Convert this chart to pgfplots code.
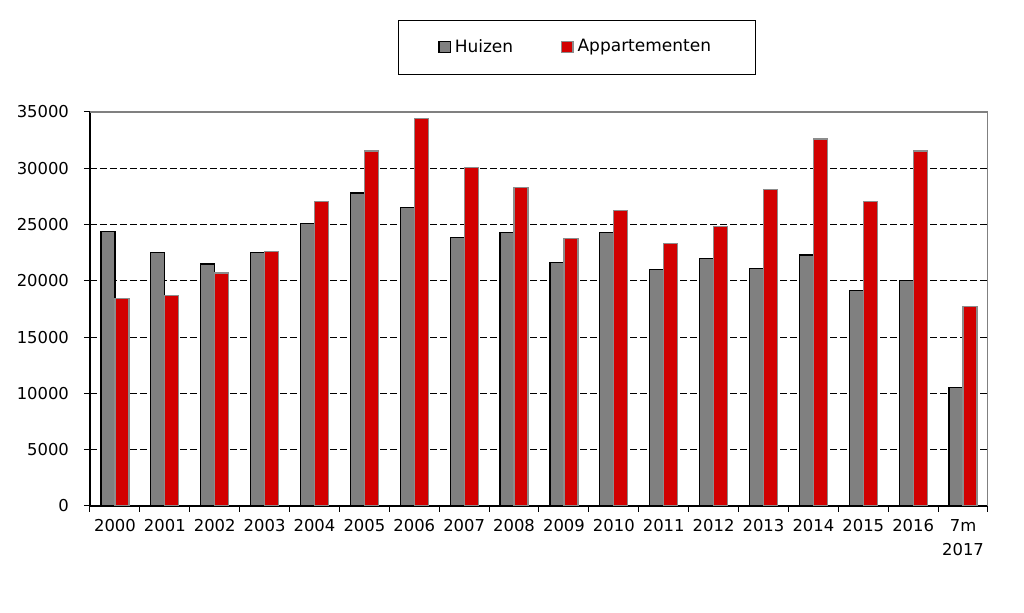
\documentclass[border=0pt]{standalone}
\usepackage{fontspec}
\setmainfont{DejaVu Sans}
\usepackage{pgfplots}
\pgfplotsset{compat=1.18}
\definecolor{huis}{RGB}{128,128,128}
\definecolor{app}{RGB}{210,0,0}
\definecolor{appedge}{RGB}{140,140,140}
\begin{document}
\begin{tikzpicture}
% page frame: 1024 x 613 px at 0.5pt per px
\path[use as bounding box] (-45pt,-53.5pt) rectangle (467pt,253pt);
\begin{axis}[
    scale only axis,
    width=449pt, height=197pt,
    ybar=0pt,
    bar width=7pt,
    xmin=-0.5, xmax=17.5,
    ymin=0, ymax=35000,
    xtick={0,...,17},
    xticklabels={2000,2001,2002,2003,2004,2005,2006,2007,2008,2009,2010,
                 2011,2012,2013,2014,2015,2016,{7m\\2017}},
    xticklabel style={align=center, font=\fontsize{8.2}{12.2}\selectfont},
    minor xtick={-0.5,0.5,...,17.5},
    major x tick style={draw=none},
    minor x tick style={black, line width=0.5pt},
    minor tick length=3pt,
    ytick={0,5000,...,35000},
    yticklabel style={font=\fontsize{8.2}{9}\selectfont, xshift=-4pt},
    major tick length=3pt,
    y tick style={black, line width=0.5pt},
    tick align=outside,
    scaled y ticks=false,
    /pgf/number format/1000 sep={},
    /pgf/number format/assume math mode=true,
    axis x line*=bottom,
    axis y line*=left,
    axis line style={black, line width=0.6pt, -},
    ymajorgrids,
    major grid style={black, line width=0.5pt, dash pattern=on 3.5pt off 1.5pt},
    legend columns=2,
    legend style={
        at={(0.542,1.234)}, anchor=north,
        draw=black, line width=0.5pt,
        inner xsep=20pt, inner ysep=7.5pt,
        font=\fontsize{8.5}{10}\selectfont,
        /tikz/every even column/.append style={column sep=22pt},
    },
    legend image code/.code={
        \draw[#1, line width=0.6pt] (0pt,-2.8pt) rectangle (5.6pt,2.8pt);
    },
]
\addplot[fill=huis, draw=black, line width=0.6pt] coordinates {
    (0,24400) (1,22550) (2,21500) (3,22500) (4,25100) (5,27800)
    (6,26550) (7,23850) (8,24300) (9,21650) (10,24300) (11,21000)
    (12,21980) (13,21100) (14,22300) (15,19170) (16,20000) (17,10500)
};
\addplot[fill=app, draw=appedge, line width=0.6pt] coordinates {
    (0,18430) (1,18670) (2,20700) (3,22600) (4,27070) (5,31540)
    (6,34400) (7,30100) (8,28300) (9,23760) (10,26270) (11,23340)
    (12,24800) (13,28100) (14,32600) (15,27070) (16,31540) (17,17720)
};
\legend{Huizen, Appartementen}
\draw[gray, line width=0.6pt] (rel axis cs:0,1) -- (rel axis cs:1,1) -- (rel axis cs:1,0);
\end{axis}
\end{tikzpicture}
\end{document}
